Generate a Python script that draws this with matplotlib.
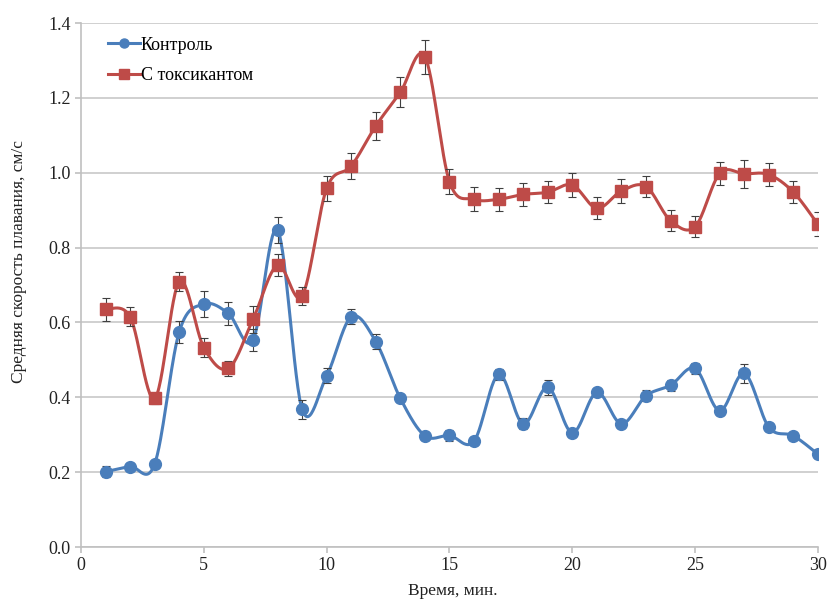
import numpy as np
import matplotlib
matplotlib.use("Agg")
import matplotlib.pyplot as plt
from matplotlib.lines import Line2D

minutes = list(range(1, 31))
control = [0.201, 0.215, 0.222, 0.575, 0.649, 0.624, 0.553, 0.847, 0.368, 0.457,
           0.615, 0.549, 0.397, 0.297, 0.298, 0.283, 0.461, 0.329, 0.427, 0.305,
           0.413, 0.329, 0.404, 0.432, 0.477, 0.364, 0.464, 0.320, 0.297, 0.248]
control_err = [0.015, 0.01, 0.01, 0.03, 0.035, 0.03, 0.03, 0.035, 0.025, 0.02,
               0.02, 0.02, 0.01, 0.01, 0.015, 0.01, 0.015, 0.015, 0.02, 0.01,
               0.01, 0.01, 0.015, 0.015, 0.015, 0.01, 0.025, 0.01, 0.01, 0.01]
toxic = [0.635, 0.615, 0.397, 0.709, 0.533, 0.477, 0.608, 0.753, 0.671, 0.958,
         1.018, 1.125, 1.215, 1.310, 0.976, 0.929, 0.929, 0.942, 0.948, 0.967,
         0.905, 0.951, 0.963, 0.872, 0.856, 0.998, 0.997, 0.995, 0.948, 0.862]
toxic_err = [0.03, 0.025, 0.015, 0.025, 0.025, 0.02, 0.035, 0.03, 0.025, 0.034,
             0.036, 0.037, 0.04, 0.045, 0.034, 0.032, 0.031, 0.031, 0.029, 0.031,
             0.029, 0.031, 0.028, 0.029, 0.029, 0.031, 0.037, 0.031, 0.029, 0.032]

labels = ["Контроль", "С токсикантом"]
colors = ["#4A7EBB", "#BE4B48"]
xlabel = "Время, мин."
ylabel = "Средняя скорость плавания, см/с"

plt.rcParams['font.family'] = ['Liberation Serif', 'DejaVu Serif']


def smooth(x, y, n=30):
    x = np.asarray(x, float)
    y = np.asarray(y, float)
    px = np.concatenate([[x[0]], x, [x[-1]]])
    py = np.concatenate([[y[0]], y, [y[-1]]])
    xs, ys = [], []
    for i in range(1, len(px) - 2):
        p0 = np.array([px[i - 1], py[i - 1]])
        p1 = np.array([px[i], py[i]])
        p2 = np.array([px[i + 1], py[i + 1]])
        p3 = np.array([px[i + 2], py[i + 2]])
        c1 = p1 + (p2 - p0) / 6.0
        c2 = p2 - (p3 - p1) / 6.0
        t = np.linspace(0, 1, n)[:, None]
        b = ((1 - t) ** 3) * p1 + 3 * ((1 - t) ** 2) * t * c1 + 3 * (1 - t) * t ** 2 * c2 + t ** 3 * p2
        xs.append(b[:, 0])
        ys.append(b[:, 1])
    return np.concatenate(xs), np.concatenate(ys)


fig = plt.figure(figsize=(8.29, 5.99), dpi=100)
ax = fig.add_axes([0.0977, 0.0868, 0.8890, 0.8748])

series = [(control, control_err, 'o', 8.5), (toxic, toxic_err, 's', 8.5)]
handles = []
for (vals, errs, mk, ms), lab, col in zip(series, labels, colors):
    sx, sy = smooth(minutes, vals)
    ax.plot(sx, sy, color=col, lw=2.2, zorder=3)
    ax.errorbar(minutes, vals, yerr=errs, fmt='none', ecolor='#404040',
                elinewidth=0.8, capsize=3, capthick=0.8, zorder=4)
    ax.plot(minutes, vals, linestyle='none', marker=mk, ms=ms, color=col,
            markeredgecolor=col, zorder=5)
    handles.append(Line2D([], [], color=col, lw=2.2, marker=mk, ms=6.5))

ax.set_xlim(0, 30)
ax.set_ylim(0, 1.4)
ax.set_xticks(range(0, 31, 5))
ax.set_yticks(np.arange(0, 1.41, 0.2))
ax.set_yticklabels([f"{v:.1f}" for v in np.arange(0, 1.41, 0.2)])
ax.grid(axis='y', color='#C8C8C8', lw=1.2)
ax.set_axisbelow(True)
for s in ['top', 'right']:
    ax.spines[s].set_visible(False)
for s in ['left', 'bottom']:
    ax.spines[s].set_color('#C0C0C0')
    ax.spines[s].set_linewidth(1.2)
ax.tick_params(axis='both', colors='#C0C0C0', length=4, width=1.2,
               labelcolor='#222222', labelsize=13)
ax.set_xlabel(xlabel, fontsize=12.5, color='#222222')
ax.set_ylabel(ylabel, fontsize=12.5, color='#222222')
ax.xaxis.set_label_coords(0.505, -0.068)
ax.yaxis.set_label_coords(-0.073, 0.545)

ax.legend(handles, labels, loc='upper left', bbox_to_anchor=(0.015, 1.005),
          frameon=False, fontsize=13, handlelength=1.75, handletextpad=0.05,
          labelspacing=0.75)

fig.savefig("out.png", dpi=100)
